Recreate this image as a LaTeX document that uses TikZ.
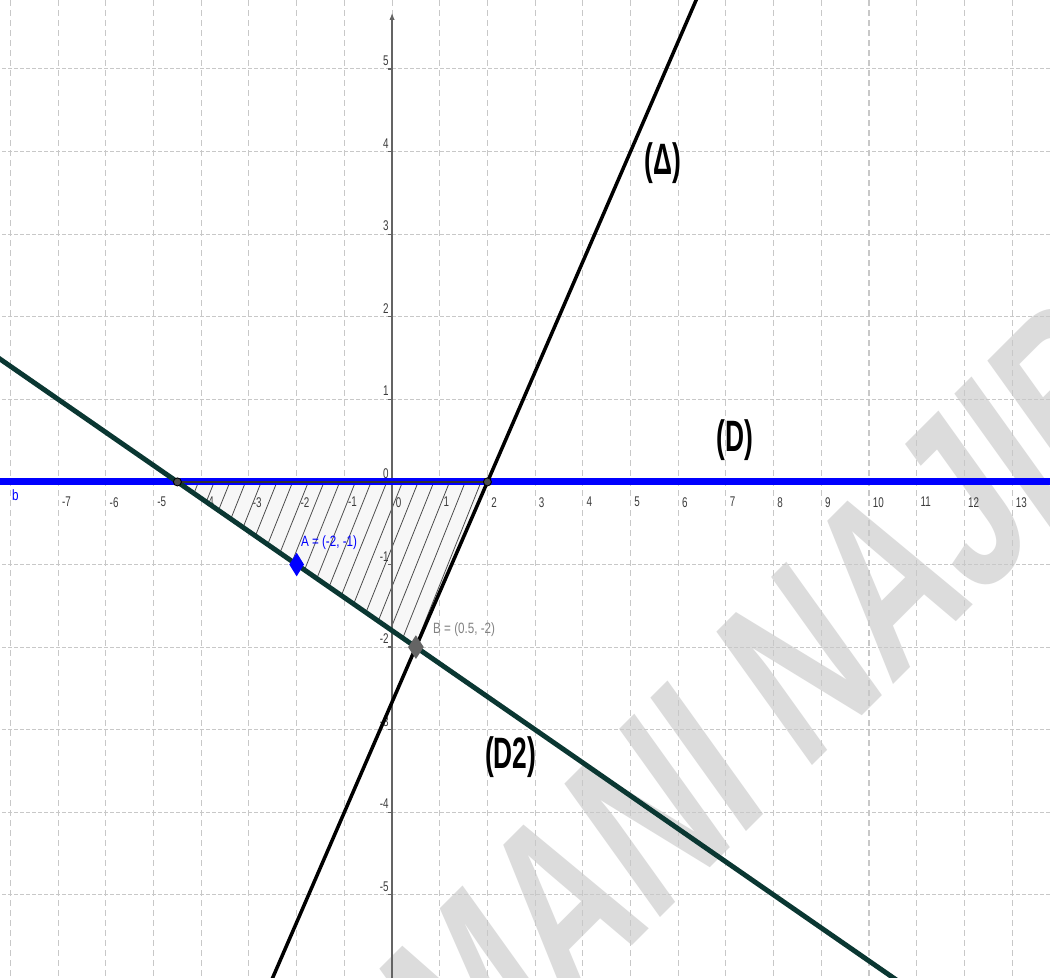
\documentclass[tikz,border=0pt]{standalone}
\usepackage{fontspec}
\setmainfont{Liberation Sans}
\newfontfamily\tickfont[FakeStretch=0.7]{Liberation Sans}
\newfontfamily\ptfont[FakeStretch=0.78]{Liberation Sans}
\newfontfamily\bigfont[FakeStretch=0.6]{Liberation Sans}
\usetikzlibrary{arrows.meta, shapes.geometric}
\definecolor{dtwo}{RGB}{10,55,50}
\definecolor{gridgray}{RGB}{200,200,200}
\definecolor{tickgray}{RGB}{60,60,60}
\definecolor{ptgray}{RGB}{100,100,100}
\definecolor{labgray}{RGB}{130,130,130}
\definecolor{markgray}{RGB}{220,220,220}

\begin{document}
\begin{tikzpicture}[
    x=0.954cm, y=1.652cm,
    gridv/.style={gridgray, line width=0.6pt, dash pattern=on 0.12cm off 0.08cm},
    gridh/.style={gridgray, line width=0.6pt, dash pattern=on 0.07cm off 0.05cm},
    axisline/.style={ptgray, line width=0.7pt},
    ticklabel/.style={font=\tickfont\fontsize{8}{8}\selectfont, text=tickgray, inner sep=0pt},
    ptlabel/.style={font=\ptfont\fontsize{8.5}{8.5}\selectfont, inner sep=0pt},
    linelabel/.style={font=\bigfont\bfseries\fontsize{25}{25}\selectfont, inner sep=0pt},
    hatchline/.style={black!70, line width=0.45pt},
    point/.style={diamond, inner sep=0pt, minimum width=0.3cm, minimum height=0.48cm},
    cut/.style={circle, draw=black, fill=black!70, inner sep=0pt, minimum size=0.16cm, line width=0.5pt}
]
    \useasboundingbox (-8.22,-6.005) rectangle (13.795,5.835);
    \clip (-8.22,-6.005) rectangle (13.795,5.835);
    \fill[white] (-8.22,-6.005) rectangle (13.795,5.835);

    % watermark
    \begin{scope}[shift={(1.58,-7.616)}]
        \node[text=markgray, font=\bfseries\fontsize{100}{100}\selectfont, inner sep=0pt, anchor=base west,
              cm={0.677,0.677,-0.791,1.104,(0,0)}, transform shape] (mark) at (0,0) {MANI NAJIB};
    \end{scope}

    % grid
    \foreach \x in {-8,...,13}
        \draw[gridv] (\x,-6.1) -- (\x,5.9);
    \foreach \y in {-5,...,5}
        \draw[gridh] (-8.3,\y) -- (13.9,\y);

    % hatched region
    \coordinate (dcut) at (-4.5,0);
    \coordinate (tcut) at (2,0);
    \coordinate (vB) at (0.5,-2);
    \fill[black!3] (dcut) -- (tcut) -- (vB) -- cycle;
    \begin{scope}
        \clip (dcut) -- (tcut) -- (vB) -- cycle;
        \foreach \k in {-14,...,7}
            \draw[hatchline] ({-0.11+0.329*\k-0.693*2.2},-2.2) -- ++(1.733,2.5);
    \end{scope}

    % axes
    \coordinate (ybot) at (0,-6.1);
    \coordinate (ytop) at (0,5.68);
    \draw[axisline, -{Latex[length=4pt,width=3pt]}] (ybot) -- (ytop);
    \foreach \y in {-5,...,5}
        \draw[axisline] (-0.085,\y) -- (0,\y);
    \foreach \x in {-7,...,13}
        \node[ticklabel, anchor=north west] (xt\x) at ([xshift=0.07cm, yshift=-0.3cm]\x,0) {\x};
    \foreach \y in {-5,...,5}
        \node[ticklabel, anchor=south east] (yt\y) at ([xshift=-0.06cm, yshift=0.06cm]0,\y) {\y};
    \node[ptlabel, text=blue] (bl) at (-7.9,-0.16) {b};

    % lines
    \coordinate (dwest) at (-8.4,0);
    \coordinate (deast) at (14,0);
    \coordinate (d2west) at (-8.4,1.56);
    \coordinate (d2east) at (10.7,-6.08);
    \coordinate (tlow) at (-2.6,-6.133);
    \coordinate (thigh) at (6.5,6);
    \draw[blue, line width=4pt] (dwest) -- (deast);
    \draw[dtwo, line width=2.8pt] (d2west) -- (d2east);
    \draw[black, line width=2pt] (tlow) -- (thigh);
    \draw[black!80, line width=0.8pt] (dcut) -- (tcut);

    % points
    \node[cut] (c1) at (dcut) {};
    \node[cut] (c2) at (tcut) {};
    \node[point, fill=blue] (A) at (-2,-1) {};
    \node[point, fill=ptgray, minimum width=0.32cm] (B) at (vB) {};
    \node[ptlabel, text=blue, anchor=south west, xshift=0.08cm, yshift=0.3cm] (Alab) at (A.center) {A = (-2, -1)};
    \node[ptlabel, text=labgray, anchor=south west, xshift=0.34cm, yshift=0.2cm] (Blab) at (B.center) {B = (0.5, -2)};

    % line names
    \node[linelabel] (lD) at (7.19,0.51) {(D)};
    \node[linelabel] (lDelta) at (5.68,3.86) {(Δ)};
    \node[linelabel] (lD2) at (2.49,-3.33) {(D2)};
\end{tikzpicture}
\end{document}
